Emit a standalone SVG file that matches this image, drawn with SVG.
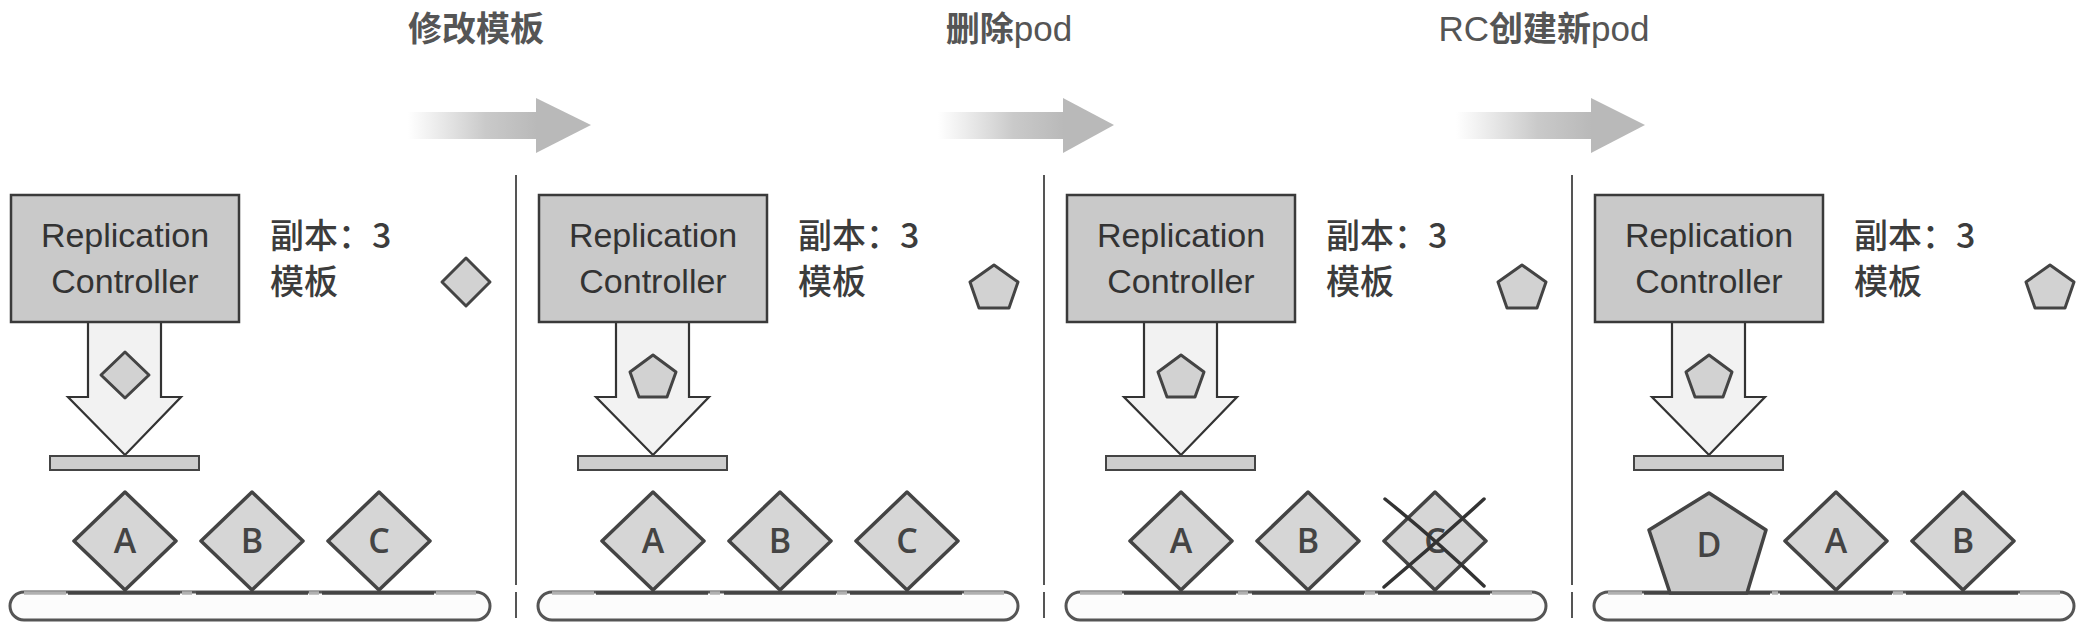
<svg xmlns="http://www.w3.org/2000/svg" width="2084" height="632" viewBox="0 0 2084 632">
<style>
.rc{fill:#c9c9c9;stroke:#3a3a3a;stroke-width:2.5}
.rct{font-family:"Liberation Sans",Arial,sans-serif;font-size:34px;fill:#333;text-anchor:middle}
.info{font-family:"Noto Sans CJK SC","Liberation Sans",sans-serif;font-size:34px;font-weight:500;fill:#3c3c3c}
.tmpl{fill:#d2d2d2;stroke:#444;stroke-width:3;stroke-linejoin:round}
.darrow{fill:#f2f2f2;stroke:#333;stroke-width:2.2;stroke-linejoin:miter}
.bar{fill:#cdcdcd;stroke:#444;stroke-width:2}
.pod{fill:#d6d6d6;stroke:#444;stroke-width:3.5;stroke-linejoin:round}
.podD{fill:#cbcbcb;stroke:#444;stroke-width:3.5;stroke-linejoin:round}
.podt{font-family:"Open Sans","DejaVu Sans",sans-serif;font-size:34px;font-weight:600;fill:#444;text-anchor:middle}
.conv{fill:#fcfcfc;stroke:#555;stroke-width:3}
.belt{stroke:#444;stroke-width:3.5;fill:none}
.beltl{stroke:#b0b0b0;stroke-width:3.5;fill:none}
.div{stroke:#555;stroke-width:2}
.label{font-family:"Noto Sans CJK SC",sans-serif;font-weight:bold;font-size:34px;fill:#555;text-anchor:middle}
.lat{font-family:"Liberation Sans",Arial,sans-serif;font-weight:normal;font-size:35px}
.cross{stroke:#333;stroke-width:3.5;stroke-linecap:round;fill:none}
.garrow{fill:url(#fade)}
.ghead{fill:#b9b9b9}
</style>
<defs>
<linearGradient id="fade" x1="0" y1="0" x2="1" y2="0">
<stop offset="0" stop-color="#c0c0c0" stop-opacity="0"/>
<stop offset="0.6" stop-color="#bcbcbc" stop-opacity="0.8"/>
<stop offset="1" stop-color="#b9b9b9" stop-opacity="1"/>
</linearGradient>
</defs>
<rect width="2084" height="632" fill="#ffffff"/>

<g id="connectors">
<g id="step1">
<text class="label" x="476" y="41">修改模板</text>
<rect class="garrow" x="408" y="112" width="129" height="27"/>
<polygon class="ghead" points="536,98 591,125 536,153"/>
</g>
<g id="step2">
<text class="label" x="1009" y="41">删除<tspan class="lat">pod</tspan></text>
<rect class="garrow" x="938" y="112" width="126" height="27"/>
<polygon class="ghead" points="1063,98 1114,125 1063,153"/>
</g>
<g id="step3">
<text class="label" x="1544" y="41"><tspan class="lat">RC</tspan>创建新<tspan class="lat">pod</tspan></text>
<rect class="garrow" x="1456" y="112" width="136" height="27"/>
<polygon class="ghead" points="1591,98 1645,125 1591,153"/>
</g>
<g id="dividers">
<line class="div" x1="516" y1="175" x2="516" y2="585"/><line class="div" x1="516" y1="592" x2="516" y2="618"/>
<line class="div" x1="1044" y1="175" x2="1044" y2="585"/><line class="div" x1="1044" y1="592" x2="1044" y2="618"/>
<line class="div" x1="1572" y1="175" x2="1572" y2="585"/><line class="div" x1="1572" y1="592" x2="1572" y2="618"/>
</g>
</g>

<!-- Panel 1 -->
<g id="panel1">
<g id="rc1">
<polygon class="darrow" points="88,322 88,397 68,397 125,455 181,397 161,397 161,322"/>
<polygon class="tmpl" points="125,352 149,375 125,398 101,375"/>
<rect class="bar" x="50" y="456" width="149" height="14"/>
<rect class="rc" x="11" y="195" width="228" height="127"/>
<text class="rct" x="125" y="247">Replication</text>
<text class="rct" x="125" y="293">Controller</text>
</g>
<g id="info1">
<text class="info" x="270" y="248">副本：3</text>
<text class="info" x="270" y="294">模板</text>
<polygon class="tmpl" points="466,258 490,282 466,306 442,282"/>
</g>
<g id="node1">
<rect class="conv" x="10" y="592" width="480" height="28" rx="14"/>
<path class="beltl" d="M24,593H66M182,593H192M309,593H319M436,593H476"/>
<path class="belt" d="M68,593H180M196,593H308M322,593H434"/>
</g>
<g id="pod1a"><polygon class="pod" points="125,492 176,541 125,590 74,541"/><text class="podt" x="125" y="553">A</text></g>
<g id="pod1b"><polygon class="pod" points="252,492 303,541 252,590 201,541"/><text class="podt" x="252" y="553">B</text></g>
<g id="pod1c"><polygon class="pod" points="379,492 430,541 379,590 328,541"/><text class="podt" x="379" y="553">C</text></g>
</g>

<!-- Panel 2 -->
<g id="panel2" transform="translate(528,0)">
<g id="rc2">
<polygon class="darrow" points="88,322 88,397 68,397 125,455 181,397 161,397 161,322"/>
<polygon class="tmpl" points="125,355 148,372 139,397 111,397 102,372"/>
<rect class="bar" x="50" y="456" width="149" height="14"/>
<rect class="rc" x="11" y="195" width="228" height="127"/>
<text class="rct" x="125" y="247">Replication</text>
<text class="rct" x="125" y="293">Controller</text>
</g>
<g id="info2">
<text class="info" x="270" y="248">副本：3</text>
<text class="info" x="270" y="294">模板</text>
<polygon class="tmpl" points="466,265 490,282 481,308 451,308 442,282"/>
</g>
<g id="node2">
<rect class="conv" x="10" y="592" width="480" height="28" rx="14"/>
<path class="beltl" d="M24,593H66M182,593H192M309,593H319M436,593H476"/>
<path class="belt" d="M68,593H180M196,593H308M322,593H434"/>
</g>
<g id="pod2a"><polygon class="pod" points="125,492 176,541 125,590 74,541"/><text class="podt" x="125" y="553">A</text></g>
<g id="pod2b"><polygon class="pod" points="252,492 303,541 252,590 201,541"/><text class="podt" x="252" y="553">B</text></g>
<g id="pod2c"><polygon class="pod" points="379,492 430,541 379,590 328,541"/><text class="podt" x="379" y="553">C</text></g>
</g>

<!-- Panel 3 -->
<g id="panel3" transform="translate(1056,0)">
<g id="rc3">
<polygon class="darrow" points="88,322 88,397 68,397 125,455 181,397 161,397 161,322"/>
<polygon class="tmpl" points="125,355 148,372 139,397 111,397 102,372"/>
<rect class="bar" x="50" y="456" width="149" height="14"/>
<rect class="rc" x="11" y="195" width="228" height="127"/>
<text class="rct" x="125" y="247">Replication</text>
<text class="rct" x="125" y="293">Controller</text>
</g>
<g id="info3">
<text class="info" x="270" y="248">副本：3</text>
<text class="info" x="270" y="294">模板</text>
<polygon class="tmpl" points="466,265 490,282 481,308 451,308 442,282"/>
</g>
<g id="node3">
<rect class="conv" x="10" y="592" width="480" height="28" rx="14"/>
<path class="beltl" d="M24,593H66M182,593H192M309,593H319M436,593H476"/>
<path class="belt" d="M68,593H180M196,593H308M322,593H434"/>
</g>
<g id="pod3a"><polygon class="pod" points="125,492 176,541 125,590 74,541"/><text class="podt" x="125" y="553">A</text></g>
<g id="pod3b"><polygon class="pod" points="252,492 303,541 252,590 201,541"/><text class="podt" x="252" y="553">B</text></g>
<g id="pod3c"><polygon class="pod" points="379,492 430,541 379,590 328,541"/><text class="podt" x="379" y="553">C</text>
<path class="cross" d="M329,499Q380,540 428,586M428,499Q378,545 328,587"/></g>
</g>

<!-- Panel 4 -->
<g id="panel4" transform="translate(1584,0)">
<g id="rc4">
<polygon class="darrow" points="88,322 88,397 68,397 125,455 181,397 161,397 161,322"/>
<polygon class="tmpl" points="125,355 148,372 139,397 111,397 102,372"/>
<rect class="bar" x="50" y="456" width="149" height="14"/>
<rect class="rc" x="11" y="195" width="228" height="127"/>
<text class="rct" x="125" y="247">Replication</text>
<text class="rct" x="125" y="293">Controller</text>
</g>
<g id="info4">
<text class="info" x="270" y="248">副本：3</text>
<text class="info" x="270" y="294">模板</text>
<polygon class="tmpl" points="466,265 490,282 481,308 451,308 442,282"/>
</g>
<g id="node4">
<rect class="conv" x="10" y="592" width="480" height="28" rx="14"/>
<path class="beltl" d="M24,593H58M188,593H194M309,593H319M436,593H476"/>
<path class="belt" d="M60,593H186M196,593H308M322,593H434"/>
</g>
<g id="pod4d"><polygon class="podD" points="125,493 182,530 163,593 86,593 65,530"/><text class="podt" x="125" y="557">D</text></g>
<g id="pod4a"><polygon class="pod" points="252,492 303,541 252,590 201,541"/><text class="podt" x="252" y="553">A</text></g>
<g id="pod4b"><polygon class="pod" points="379,492 430,541 379,590 328,541"/><text class="podt" x="379" y="553">B</text></g>
</g>
</svg>
